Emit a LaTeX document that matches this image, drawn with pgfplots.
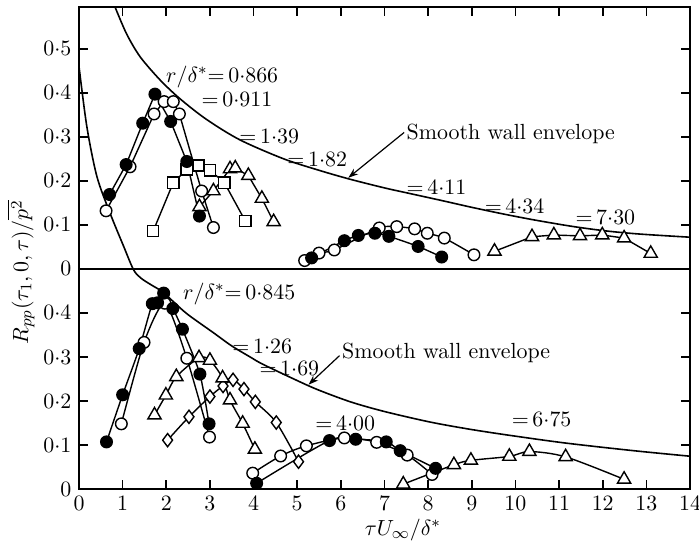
\documentclass[11pt,border=0pt]{standalone}
\usepackage{pgfplots}
\pgfplotsset{compat=1.18}
\usetikzlibrary{arrows.meta}
\begin{document}
\begin{tikzpicture}
\path[use as bounding box] (-39.5pt,-30.5pt) rectangle (310pt,244.5pt);
\begin{axis}[
  scale only axis, width=305.5pt, height=241pt,
  xmin=0, xmax=14, ymin=0, ymax=1.095,
  xtick={0,1,...,14},
  ytick={0,0.1,0.2,0.3,0.4,0.5,0.6,0.7,0.8,0.9,1.0},
  yticklabels={$0$,$0{\cdot}1$,$0{\cdot}2$,$0{\cdot}3$,$0{\cdot}4$,$0$,$0{\cdot}1$,$0{\cdot}2$,$0{\cdot}3$,$0{\cdot}4$,$0{\cdot}5$},
  tick align=inside, major tick length=4.5pt,
  axis line style={line width=1pt},
  every tick/.style={black, line width=0.8pt},
  xlabel={$\tau U_\infty/\delta^*$},
  ylabel={$R_{pp}(\tau_1,0,\tau)/\overline{p^2}$},
  xlabel style={at={(axis description cs:0.53,-0.085)}, anchor=center},
  ylabel style={at={(axis description cs:-0.095,0.45)}, anchor=center},
  upper/.style={y filter/.expression={y+0.5}},
  dl/.style={black, line width=0.7pt, mark options={line width=0.7pt, solid}},
  fc/.style={dl, mark=*, mark size=2.9pt, mark options={fill=black}},
  oc/.style={dl, mark=*, mark size=2.9pt, mark options={fill=white}},
  sq/.style={dl, mark=square*, mark size=2.8pt, mark options={fill=white}},
  tr/.style={dl, mark=triangle*, mark size=3.8pt, mark options={fill=white}},
  dm/.style={dl, mark=diamond*, mark size=3.3pt, mark options={fill=white}},
]
% ---------- boundary between panels
\addplot[black, line width=1pt] coordinates {(0,0.5) (14,0.5)};

% ---------- envelopes
\addplot[black, line width=0.8pt, smooth, upper] coordinates {
(0.83,0.594) (1.09,0.534) (1.40,0.482) (1.86,0.429) (2.32,0.386) (2.93,0.339)
(3.69,0.293) (4.69,0.250) (5.5,0.224) (6.2,0.204) (7.0,0.184) (7.5,0.173)
(8.28,0.156) (9.04,0.139) (9.81,0.123) (10.5,0.110) (11.34,0.096) (12.1,0.086)
(12.87,0.079) (14,0.072)};
\addplot[black, line width=0.8pt, smooth] coordinates {
(0,0.96) (0.18,0.823) (0.41,0.71) (0.71,0.627) (1.02,0.552) (1.25,0.498)
(1.42,0.479) (1.65,0.464) (1.93,0.447) (2.2,0.422) (2.5,0.396) (3.08,0.355)
(3.5,0.325) (3.92,0.300) (4.2,0.284) (4.92,0.250) (5.46,0.226) (6.22,0.198)
(7.0,0.176) (8.05,0.152) (9.0,0.135) (10.0,0.120) (11.18,0.104) (12.71,0.087)
(14.05,0.074)};

% ---------- upper panel
\addplot[sq, upper] coordinates {(1.70,0.086) (2.16,0.196) (2.47,0.226) (2.74,0.235) (3.0,0.224) (3.33,0.196) (3.81,0.109)};
\addplot[tr, upper] coordinates {(2.76,0.141) (3.08,0.177) (3.46,0.227) (3.58,0.229) (3.88,0.212) (4.19,0.160) (4.46,0.107)};
\addplot[oc, upper] coordinates {(0.62,0.132) (1.17,0.232) (1.72,0.352) (1.95,0.380) (2.16,0.380) (2.30,0.352) (2.81,0.177) (3.08,0.094)};
\addplot[fc, upper] coordinates {(0.70,0.169) (1.08,0.237) (1.46,0.331) (1.74,0.397) (2.10,0.335) (2.47,0.244) (2.76,0.120)};
\addplot[oc, upper, smooth, tension=0.4] coordinates {(5.17,0.019) (5.50,0.036) (5.85,0.043) (6.88,0.093) (7.28,0.096) (7.69,0.091) (7.98,0.081) (8.37,0.070) (9.05,0.032)};
\addplot[fc, upper, smooth, tension=0.4] coordinates {(5.33,0.025) (6.08,0.064) (6.40,0.076) (6.78,0.081) (7.10,0.074) (7.77,0.051) (8.31,0.027)};
\addplot[tr, upper] coordinates {(9.52,0.040) (10.38,0.073) (10.88,0.077) (11.48,0.075) (11.99,0.077) (12.49,0.070) (13.10,0.035)};

% ---------- lower panel
\addplot[dm, smooth, tension=0.5] coordinates {(2.03,0.111) (2.52,0.164) (3.00,0.210) (3.30,0.234) (3.53,0.248) (3.78,0.227) (4.04,0.198) (4.52,0.151) (5.03,0.062)};
\addplot[tr, smooth, tension=0.5] coordinates {(1.73,0.168) (1.99,0.213) (2.23,0.255) (2.75,0.298) (3.00,0.292) (3.29,0.252) (3.46,0.202) (3.75,0.149) (4.03,0.090)};
\addplot[oc, smooth, tension=0.4] coordinates {(0.97,0.148) (1.49,0.333) (1.97,0.422) (2.47,0.297) (2.99,0.118)};
\addplot[fc, smooth, tension=0.4] coordinates {(0.63,0.107) (1.00,0.214) (1.38,0.319) (1.68,0.421) (1.80,0.423) (1.94,0.445) (2.15,0.410) (2.37,0.363) (2.77,0.261) (2.98,0.148)};
\addplot[oc, smooth, tension=0.5] coordinates {(3.98,0.036) (4.62,0.075) (5.21,0.098) (6.08,0.116) (6.82,0.106) (7.52,0.077) (8.09,0.033)};
\addplot[fc, smooth, tension=0.5] coordinates {(4.07,0.013) (5.74,0.110) (6.34,0.113) (7.04,0.107) (7.36,0.087) (8.17,0.047)};
\addplot[tr, smooth] coordinates {(7.43,0.011) (8.59,0.055) (8.98,0.065) (9.86,0.074) (10.32,0.085) (11.15,0.073) (12.49,0.022)};

% ---------- annotations
\node at (axis cs:3.28,0.936) {$r/\delta^*{=}\,0{\cdot}866$};
\node at (axis cs:3.62,0.884) {${=}\,0{\cdot}911$};
\node at (axis cs:4.36,0.800) {${=}\,1{\cdot}39$};
\node at (axis cs:5.46,0.748) {${=}\,1{\cdot}82$};
\node at (axis cs:8.19,0.684) {${=}\,4{\cdot}11$};
\node at (axis cs:9.98,0.642) {${=}\,4{\cdot}34$};
\node at (axis cs:12.06,0.617) {${=}\,7{\cdot}30$};
\node[anchor=west, inner sep=0pt] at (axis cs:7.50,0.807) {Smooth wall envelope};
\draw[-{Stealth[length=5pt,width=3.5pt]}, line width=0.6pt] (axis cs:7.45,0.810) -- (axis cs:6.17,0.707);

\node at (axis cs:3.67,0.443) {$r/\delta^*{=}\,0{\cdot}845$};
\node at (axis cs:4.20,0.323) {${=}\,1{\cdot}26$};
\node at (axis cs:4.82,0.273) {${=}\,1{\cdot}69$};
\node at (axis cs:6.10,0.149) {${=}\,4{\cdot}00$};
\node at (axis cs:10.6,0.157) {${=}\,6{\cdot}75$};
\node[anchor=west, inner sep=0pt] at (axis cs:6.02,0.309) {Smooth wall envelope};
\draw[-{Stealth[length=5pt,width=3.5pt]}, line width=0.6pt] (axis cs:5.97,0.303) -- (axis cs:5.26,0.237);
\end{axis}
\end{tikzpicture}
\end{document}
